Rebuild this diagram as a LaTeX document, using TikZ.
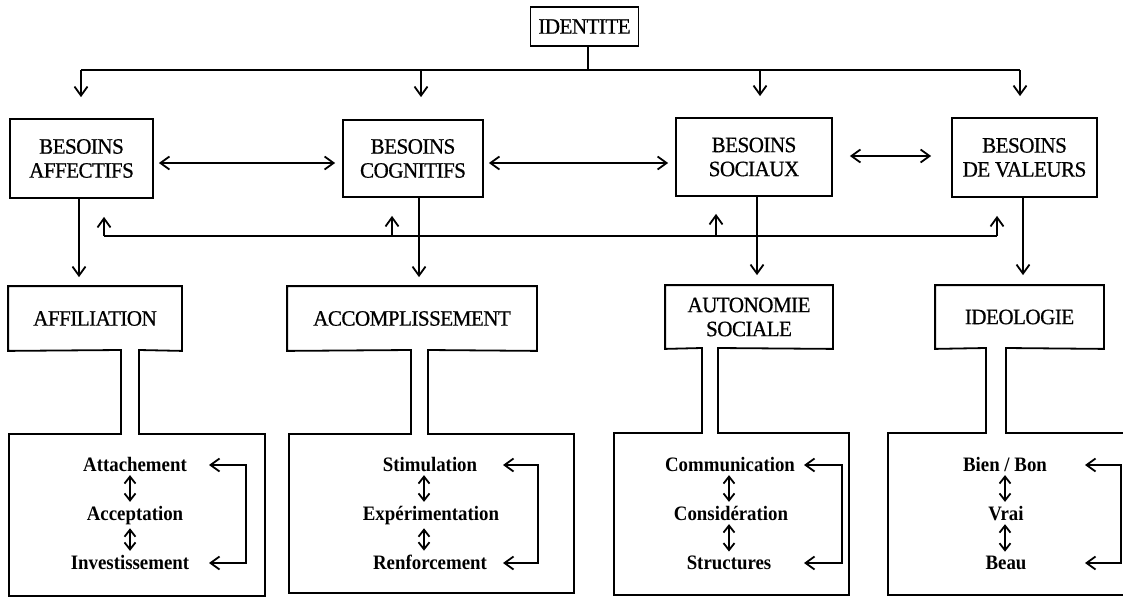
\documentclass[tikz,border=0pt]{standalone}
\usepackage{fontspec}
\setmainfont{Liberation Serif}
\newfontfamily\capsfont[FakeStretch=0.96,FakeBold=0.6,LetterSpace=-2.5]{Liberation Serif}
\newfontfamily\itemfont[FakeStretch=0.92]{Liberation Serif}
\usetikzlibrary{arrows.meta}
\begin{document}
\begin{tikzpicture}[x=1pt,y=-1pt,line width=1.8pt,
  >={Straight Barb[length=9pt,width=13pt]},
  small/.style={{Straight Barb[length=7pt,width=11pt]}-{Straight Barb[length=7pt,width=11pt]}},
  caps/.style={font=\capsfont\fontsize{22}{24}\selectfont, align=center},
  need/.style={caps, draw, inner sep=0pt},
  titlebox/.style={caps, inner sep=0pt},
  item/.style={font=\itemfont\bfseries\fontsize{20.5}{22}\selectfont, anchor=base, inner xsep=2pt, inner ysep=3pt}]
\useasboundingbox (0,0) rectangle (1123,597);

% top level
\node[need, minimum width=108, minimum height=39] (id) at (584.5,26.5) {IDENTITE};
\node[need, minimum width=143, minimum height=79] (aff) at (81.5,158.5) {BESOINS\\AFFECTIFS};
\node[need, minimum width=140, minimum height=77] (cog) at (413,158.5) {BESOINS\\COGNITIFS};
\node[need, minimum width=156, minimum height=78] (soc) at (754,157) {BESOINS\\SOCIAUX};
\node[need, minimum width=145, minimum height=79] (val) at (1024.5,157.5) {BESOINS\\DE VALEURS};

% distribution bus
\coordinate (bus) at (588,70);
\coordinate (busL) at (81,70);
\coordinate (busR) at (1020,70);
\coordinate (b2) at (421,70);
\coordinate (b3) at (760,70);
\draw (bus |- id.south) -- (bus);
\draw (busL) -- (busR);
\draw[->, shorten >=21pt] (busL) -- (busL |- aff.north);
\draw[->, shorten >=22pt] (b2) -- (b2 |- cog.north);
\draw[->, shorten >=21pt] (b3) -- (b3 |- soc.north);
\draw[->, shorten >=21pt] (busR) -- (busR |- val.north);

% horizontal double arrows
\coordinate (h1) at (0,163);
\coordinate (h2) at (0,156);
\draw[<->, shorten <=5pt, shorten >=7pt] (aff.east |- h1) -- (cog.west |- h1);
\draw[<->, shorten <=5pt, shorten >=7pt] (cog.east |- h1) -- (soc.west |- h1);
\draw[<->, shorten <=17pt, shorten >=20pt] (soc.east |- h2) -- (val.west |- h2);

% bottom titles
\node[titlebox, minimum width=172, minimum height=63] (affil) at (95,318.5) {AFFILIATION};
\node[titlebox, minimum width=248, minimum height=63] (accom) at (412,318.5) {ACCOMPLISSEMENT};
\node[titlebox, minimum width=166, minimum height=62] (auton) at (749,317) {AUTONOMIE\\SOCIALE};
\node[titlebox, minimum width=167, minimum height=62] (ideol) at (1019.5,317) {IDEOLOGIE};

% down arrows
\coordinate (d1) at (79,0);
\coordinate (d2) at (419,0);
\coordinate (d3) at (757,0);
\coordinate (d4) at (1023,0);
\draw[->, shorten >=9pt] (d1 |- aff.south) -- (d1 |- affil.north);
\draw[->, shorten >=9pt] (d2 |- cog.south) -- (d2 |- accom.north);
\draw[->, shorten >=10pt] (d3 |- soc.south) -- (d3 |- auton.north);
\draw[->, shorten >=10pt] (d4 |- val.south) -- (d4 |- ideol.north);

% feedback line
\coordinate (fbL) at (104,236);
\coordinate (fbR) at (997,236);
\coordinate (f2) at (392,236);
\coordinate (f3) at (716,236);
\draw (fbL) -- (fbR);
\draw[->, shorten >=18pt] (fbL) -- (fbL |- aff.south);
\draw[->, shorten >=18pt] (f2) -- (f2 |- cog.south);
\draw[->, shorten >=17pt] (f3) -- (f3 |- soc.south);
\draw[->, shorten >=18pt] (fbR) -- (fbR |- val.south);

% outlines of the bottom groups
\draw (121,350) -- (affil.south west) -- (affil.north west) -- (affil.north east) -- (affil.south east)
  -- (139,350) -- (139,434) -- (265,434) -- (265,596) -- (9,596) -- (9,434) -- (121,434) -- cycle;
\draw (411,350) -- (accom.south west) -- (accom.north west) -- (accom.north east) -- (accom.south east)
  -- (428,350) -- (428,434) -- (574,434) -- (574,593) -- (289,593) -- (289,434) -- (411,434) -- cycle;
\draw (702,348) -- (auton.south west) -- (auton.north west) -- (auton.north east) -- (auton.south east)
  -- (718,348) -- (718,433) -- (849,433) -- (849,595) -- (614,595) -- (614,433) -- (702,433) -- cycle;
\draw (986,348) -- (ideol.south west) -- (ideol.north west) -- (ideol.north east) -- (ideol.south east)
  -- (1006,348) -- (1006,433) -- (1130,433) -- (1130,595) -- (888,595) -- (888,433) -- (986,433) -- cycle;

% group 1
\node[item] (a1) at (135,471) {Attachement};
\node[item] (a2) at (135,520) {Acceptation};
\node[item] (a3) at (130,569) {Investissement};
\coordinate (ax) at (130,0);
\draw[small] (ax |- a1.south) -- (ax |- a2.north);
\draw[small] (ax |- a2.south) -- (ax |- a3.north);
\coordinate (k1t) at (209,465);
\coordinate (k1b) at (209,563);
\coordinate (k1r) at (246,514);
\draw[<->] (k1t) -| (k1r) |- (k1b);

% group 2
\node[item] (s1) at (430,471) {Stimulation};
\node[item] (s2) at (431,520) {Expérimentation};
\node[item] (s3) at (430,569) {Renforcement};
\coordinate (sx) at (424,0);
\draw[small] (sx |- s1.south) -- (sx |- s2.north);
\draw[small] (sx |- s2.south) -- (sx |- s3.north);
\coordinate (k2t) at (503,465);
\coordinate (k2b) at (503,563);
\coordinate (k2r) at (538,514);
\draw[<->] (k2t) -| (k2r) |- (k2b);

% group 3
\node[item] (c1) at (730,471) {Communication};
\node[item] (c2) at (731,520) {Considération};
\node[item] (c3) at (729,569) {Structures};
\coordinate (cx) at (729,0);
\draw[small] (cx |- c1.south) -- (cx |- c2.north);
\draw[small] (cx |- c2.south) -- (cx |- c3.north);
\coordinate (k3t) at (804,465);
\coordinate (k3b) at (804,563);
\coordinate (k3r) at (842,514);
\draw[<->] (k3t) -| (k3r) |- (k3b);

% group 4
\node[item] (v1) at (1005,471) {Bien / Bon};
\node[item] (v2) at (1006,520) {Vrai};
\node[item] (v3) at (1006,569) {Beau};
\coordinate (vx) at (1005,0);
\draw[small] (vx |- v1.south) -- (vx |- v2.north);
\draw[small] (vx |- v2.south) -- (vx |- v3.north);
\coordinate (k4t) at (1085,465);
\coordinate (k4b) at (1085,563);
\coordinate (k4r) at (1121,514);
\draw[<->] (k4t) -| (k4r) |- (k4b);
\end{tikzpicture}
\end{document}
